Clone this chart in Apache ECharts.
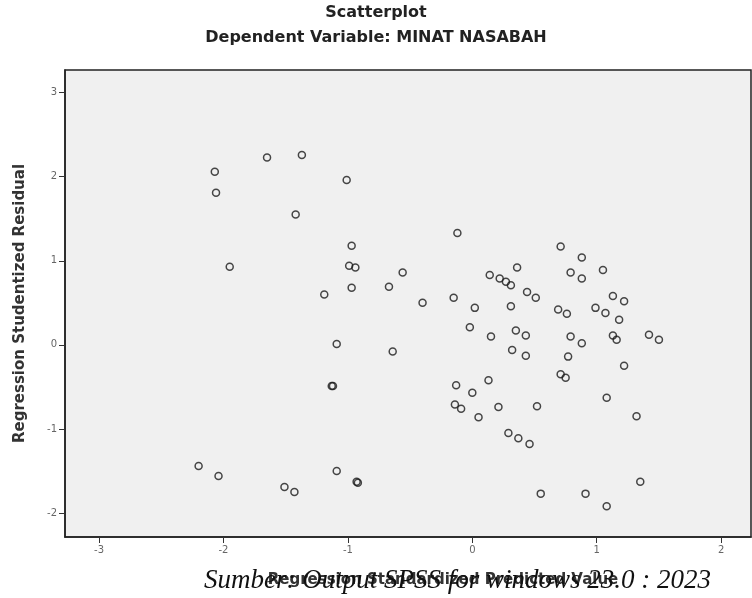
<!DOCTYPE html>
<html><head><meta charset="utf-8">
<script src="https://cdn.jsdelivr.net/npm/echarts@6/dist/echarts.min.js"></script>
<style>html,body{margin:0;padding:0;background:#fff}#c{width:752px;height:598px}</style>
</head><body><div id="c"></div>
<script>
// Regression Standardized Predicted Value (x)
const predicted = [
  -2.07, -2.06, -1.65, -1.37, -1.01, -1.42, -1.95, -0.97, -0.99, -0.94,
  -0.97, -1.19, -0.67, -0.56, -0.40, -1.09, -0.64, -1.13, -1.12, -2.20,
  -2.04, -1.51, -1.43, -1.09, -0.93, -0.92, -0.12, 0.71, 0.88, 1.05,
  0.36, 0.79, 0.88, 0.14, 0.22, 0.27, 0.31, 0.44, 0.51, -0.15,
  0.02, 0.31, 0.69, 0.76, 0.99, 1.07, 1.13, 1.22, 1.18, -0.02,
  0.15, 0.35, 0.43, 0.79, 0.88, 1.13, 1.16, 1.42, 1.50, 0.32,
  0.43, 0.77, 1.22, 0.71, 0.75, 0.13, -0.13, 0.00, -0.14, -0.09,
  0.05, 0.21, 0.52, 1.08, 1.32, 0.29, 0.37, 0.46, 0.55, 0.91,
  1.08, 1.35
];
// Regression Studentized Residual (y)
const residual = [
  2.06, 1.81, 2.23, 2.26, 1.96, 1.55, 0.93, 1.18, 0.94, 0.92,
  0.68, 0.60, 0.69, 0.86, 0.50, 0.01, -0.08, -0.49, -0.49, -1.44,
  -1.56, -1.69, -1.75, -1.50, -1.63, -1.64, 1.33, 1.17, 1.04, 0.89,
  0.92, 0.86, 0.79, 0.83, 0.79, 0.75, 0.71, 0.63, 0.56, 0.56,
  0.44, 0.46, 0.42, 0.37, 0.44, 0.38, 0.58, 0.52, 0.30, 0.21,
  0.10, 0.17, 0.11, 0.10, 0.02, 0.11, 0.06, 0.12, 0.06, -0.06,
  -0.13, -0.14, -0.25, -0.35, -0.39, -0.42, -0.48, -0.57, -0.71, -0.76,
  -0.86, -0.74, -0.73, -0.63, -0.85, -1.05, -1.11, -1.18, -1.77, -1.77,
  -1.92, -1.63
];
const xTickValues = [-3, -2, -1, 0, 1, 2];
const yTickValues = [-2, -1, 0, 1, 2, 3];
const titleText = 'Scatterplot';
const subtitleText = 'Dependent Variable: MINAT NASABAH';
const xName = 'Regression Standardized Predicted Value';
const yName = 'Regression Studentized Residual';
const sourceText = 'Sumber: Output SPSS for windows 23.0 : 2023';

const points = predicted.map((x, i) => [x, residual[i]]);
const chart = echarts.init(document.getElementById('c'), null, {renderer: 'canvas'});
const sans = '"DejaVu Sans", sans-serif';
chart.setOption({
  animation: false,
  backgroundColor: '#ffffff',
  grid: {
    left: 65, right: 1, top: 70, bottom: 61,
    show: true, backgroundColor: '#f0f0f0', borderColor: '#222', borderWidth: 1.5
  },
  xAxis: {
    type: 'value', min: -3.274, max: 2.24,
    name: xName, nameLocation: 'middle', nameGap: 36,
    nameTextStyle: {fontFamily: sans, fontWeight: 'bold', fontSize: 15, color: '#333', padding: [0, 0, 0, 70]},
    axisLine: {show: true, onZero: false, lineStyle: {color: '#222', width: 1.5}},
    axisTick: {show: true, length: 6, customValues: xTickValues, lineStyle: {color: '#333'}},
    axisLabel: {customValues: xTickValues, margin: 8, fontFamily: sans, fontSize: 10, color: '#666'},
    splitLine: {show: false}
  },
  yAxis: {
    type: 'value', min: -2.286, max: 3.27,
    name: yName, nameLocation: 'middle', nameGap: 37, nameRotate: 90,
    nameTextStyle: {fontFamily: sans, fontWeight: 'bold', fontSize: 15, color: '#333'},
    axisLine: {show: true, onZero: false, lineStyle: {color: '#222', width: 1.5}},
    axisTick: {show: true, length: 6, customValues: yTickValues, lineStyle: {color: '#333'}},
    axisLabel: {customValues: yTickValues, margin: 8, fontFamily: sans, fontSize: 10, color: '#666'},
    splitLine: {show: false}
  },
  series: [{
    type: 'scatter',
    data: points,
    symbol: 'circle',
    symbolSize: 7,
    itemStyle: {color: 'rgba(0,0,0,0)', borderColor: '#1a1a1a', borderWidth: 1.5}
  }],
  graphic: [
    {type: 'text', left: 'center', top: 5, style: {text: titleText, font: 'bold 16px "DejaVu Sans"', fill: '#222'}},
    {type: 'text', left: 'center', top: 30, style: {text: subtitleText, font: 'bold 16px "DejaVu Sans"', fill: '#222'}},
    {type: 'text', z: 100, left: 204, top: 567, style: {text: sourceText, font: 'italic 27px "Liberation Serif"', fill: '#111'}}
  ]
});
</script>
</body></html>
